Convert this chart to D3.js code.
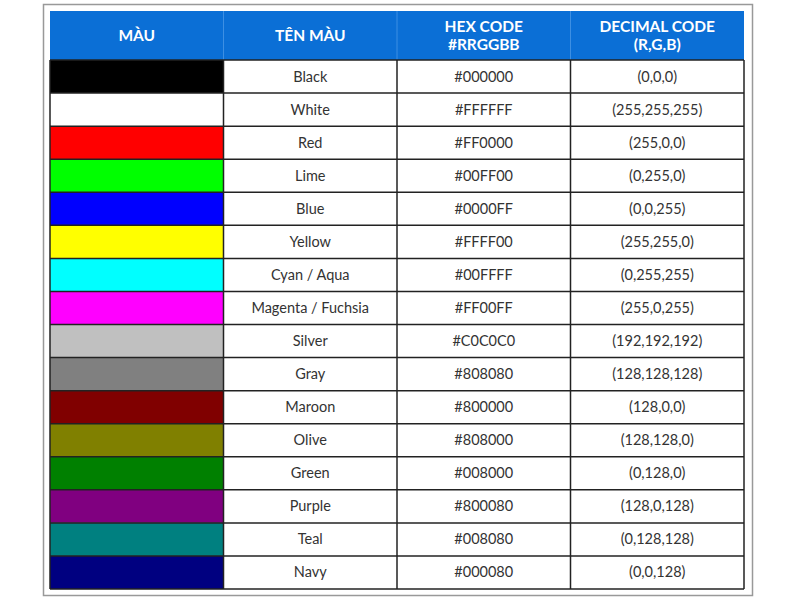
<!DOCTYPE html>
<html><head><meta charset="utf-8">
<script src="https://cdn.jsdelivr.net/npm/d3@7"></script>
<style>body{margin:0;background:#fff}</style>
</head><body>
<script>
const headers = [["MÀU"], ["TÊN MÀU"], ["HEX CODE", "#RRGGBB"], ["DECIMAL CODE", "(R,G,B)"]];
const names = ["Black","White","Red","Lime","Blue","Yellow","Cyan / Aqua","Magenta / Fuchsia","Silver","Gray","Maroon","Olive","Green","Purple","Teal","Navy"];
const hexes = ["#000000","#FFFFFF","#FF0000","#00FF00","#0000FF","#FFFF00","#00FFFF","#FF00FF","#C0C0C0","#808080","#800000","#808000","#008000","#800080","#008080","#000080"];
const decs = ["(0,0,0)","(255,255,255)","(255,0,0)","(0,255,0)","(0,0,255)","(255,255,0)","(0,255,255)","(255,0,255)","(192,192,192)","(128,128,128)","(128,0,0)","(128,128,0)","(0,128,0)","(128,0,128)","(0,128,128)","(0,0,128)"];

const svg = d3.select("body").append("svg").attr("width", 800).attr("height", 600);
svg.append("rect").attr("x", 43.5).attr("y", 4.5).attr("width", 709).attr("height", 591)
  .attr("fill", "none").attr("stroke", "#999").attr("stroke-width", 1.5);

const x = d3.scaleBand().domain(d3.range(4)).range([50, 744]);
const headTop = 11, headBot = 60;
const y = d3.scaleBand().domain(d3.range(names.length)).range([headBot, 589]);

// header
svg.append("rect").attr("x", 50).attr("y", headTop).attr("width", 694).attr("height", headBot - headTop).attr("fill", "#0b6fd6");
headers.forEach((h, i) => {
  if (i > 0) svg.append("line").attr("x1", x(i)).attr("x2", x(i)).attr("y1", headTop).attr("y2", headBot).attr("stroke", "#3d8fe3");
  const t = svg.append("text").attr("x", x(i) + x.bandwidth() / 2).attr("text-anchor", "middle")
    .attr("font-family", "Lato, sans-serif").attr("font-weight", "bold").attr("font-size", 15.5).attr("fill", "#fff");
  const cy = (headTop + headBot) / 2;
  h.forEach((line, k) => {
    t.append("tspan").attr("x", x(i) + x.bandwidth() / 2)
      .attr("y", cy + 5.5 + (k - (h.length - 1) / 2) * 18).text(line);
  });
});

// rows
const rows = svg.selectAll("g.row").data(names).join("g").attr("class", "row");
rows.append("rect").attr("x", x(0)).attr("y", (d, i) => y(i)).attr("width", x.bandwidth()).attr("height", y.bandwidth())
  .attr("fill", (d, i) => hexes[i]);
rows.each(function (d, i) {
  const g = d3.select(this);
  [d, hexes[i], decs[i]].forEach((v, c) => {
    g.append("text").attr("x", x(c + 1) + x.bandwidth() / 2).attr("y", y(i) + y.bandwidth() / 2 + 5)
      .attr("text-anchor", "middle").attr("font-family", "Lato, sans-serif").attr("font-size", 14.5)
      .attr("fill", "#333").text(v);
  });
});
// grid lines
const grid = svg.append("g").attr("stroke", "#222").attr("stroke-width", 1.5);
d3.range(names.length + 1).forEach(i => {
  const yy = i < names.length ? y(i) : 589;
  grid.append("line").attr("x1", 50).attr("x2", 744).attr("y1", yy).attr("y2", yy);
});
[0, 1, 2, 3].forEach(i => grid.append("line").attr("x1", x(i)).attr("x2", x(i)).attr("y1", headBot).attr("y2", 589));
grid.append("line").attr("x1", 744).attr("x2", 744).attr("y1", headBot).attr("y2", 589);
</script>
</body></html>
